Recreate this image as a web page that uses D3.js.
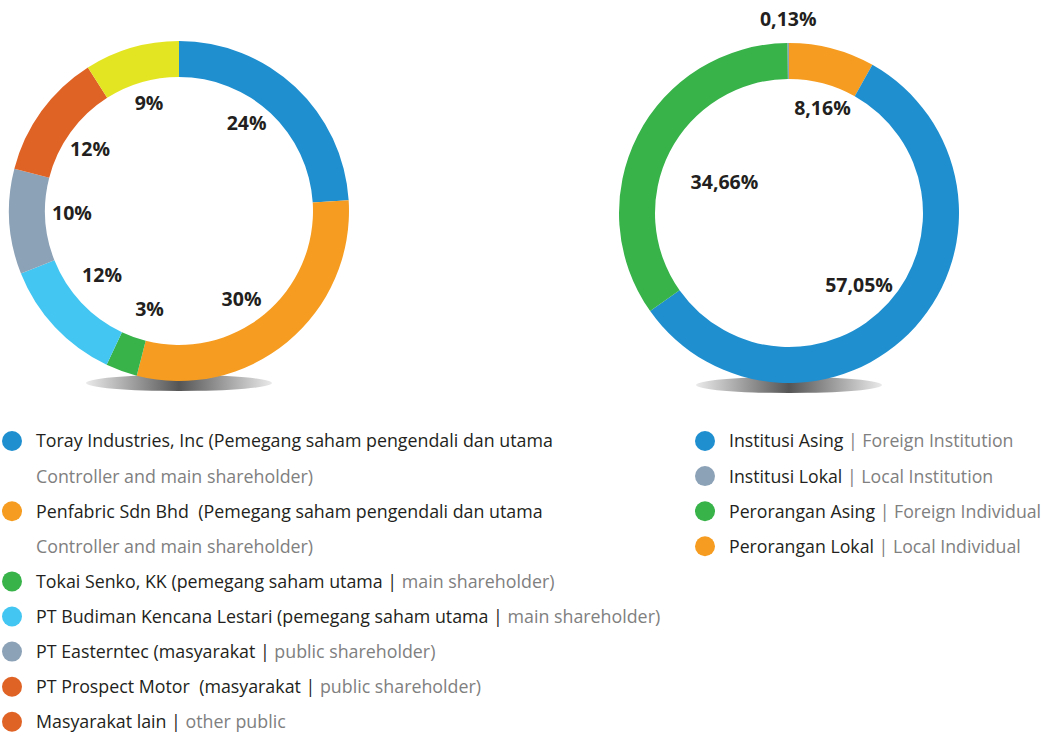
<!DOCTYPE html>
<html>
<head>
<meta charset="utf-8">
<script src="https://cdn.jsdelivr.net/npm/d3@7"></script>
<style>
body { margin: 0; background: #fff; }
svg { display: block; }
text { font-family: "Open Sans", sans-serif; white-space: pre; }
</style>
</head>
<body>
<div id="chart"></div>
<script>
// left donut: shareholders
var leftNames = ["Toray Industries", "Penfabric", "Tokai Senko", "PT Budiman Kencana Lestari", "PT Easterntec", "PT Prospect Motor", "Masyarakat lain"];
var leftValues = [24, 30, 3, 12, 10, 12, 9];
var leftLabels = ["24%", "30%", "3%", "12%", "10%", "12%", "9%"];
var leftColors = ["#1f8fd0", "#f69d21", "#37b34a", "#43c6f1", "#8ca2b7", "#e06326", "#e4e522"];

// right donut: investor type
var rightNames = ["Perorangan Lokal", "Institusi Asing", "Perorangan Asing", "Institusi Lokal"];
var rightValues = [8.16, 57.05, 34.66, 0.13];
var rightLabels = ["8,16%", "57,05%", "34,66%", "0,13%"];
var rightColors = ["#f69d21", "#1f8fd0", "#37b34a", "#8ca2b7"];

// legend texts [black part, grey part]
var leftLegendRows = [
    ["Toray Industries, Inc (Pemegang saham pengendali dan utama", ""],
    ["", "Controller and main shareholder)"],
    ["Penfabric Sdn Bhd  (Pemegang saham pengendali dan utama", ""],
    ["", "Controller and main shareholder)"],
    ["Tokai Senko, KK (pemegang saham utama | ", "main shareholder)"],
    ["PT Budiman Kencana Lestari (pemegang saham utama | ", "main shareholder)"],
    ["PT Easterntec (masyarakat | ", "public shareholder)"],
    ["PT Prospect Motor  (masyarakat | ", "public shareholder)"],
    ["Masyarakat lain | ", "other public"]
];
var leftLegendDots = ["#1f8fd0", null, "#f69d21", null, "#37b34a", "#43c6f1", "#8ca2b7", "#e06326", "#e06326"];

var rightLegendRows = [
    ["Institusi Asing ", "| Foreign Institution"],
    ["Institusi Lokal ", "| Local Institution"],
    ["Perorangan Asing ", "| Foreign Individual"],
    ["Perorangan Lokal ", "| Local Individual"]
];
var rightLegendDots = ["#1f8fd0", "#8ca2b7", "#37b34a", "#f69d21"];

var w = 1044;
var h = 732;
var outerR = 170;
var innerR = 134;

var svg = d3.select("#chart")
    .append("svg")
    .attr("width", w)
    .attr("height", h);

// gradient for the shadow under each ring
var defs = svg.append("defs");
var grad = defs.append("linearGradient")
    .attr("id", "shadow")
    .attr("x1", "0%").attr("x2", "100%")
    .attr("y1", "0%").attr("y2", "0%");
grad.append("stop").attr("offset", "0%").attr("stop-color", "#eaeaea");
grad.append("stop").attr("offset", "50%").attr("stop-color", "#555555");
grad.append("stop").attr("offset", "100%").attr("stop-color", "#eaeaea");

var pie = d3.pie().sort(null).value(function(d) { return d; });
var arc = d3.arc().innerRadius(innerR).outerRadius(outerR);

// labels sit near the slice middle; small per-label nudges (radius px, angle deg)
function drawDonut(cx, cy, values, colors, labels, labelR, labelTurn) {
    var g = svg.append("g").attr("transform", "translate(" + cx + "," + cy + ")");

    g.append("ellipse")
        .attr("cx", 0)
        .attr("cy", 172)
        .attr("rx", 93)
        .attr("ry", 8)
        .attr("fill", "url(#shadow)");

    var arcs = pie(values);

    g.selectAll("path")
        .data(arcs)
        .enter()
        .append("path")
        .attr("d", arc)
        .attr("fill", function(d, i) { return colors[i]; });

    g.selectAll(".slice-label")
        .data(arcs)
        .enter()
        .append("text")
        .attr("class", "slice-label")
        .text(function(d, i) { return labels[i]; })
        .attr("transform", function(d, i) {
            var r = labelR[i];
            var a = (d.startAngle + d.endAngle) / 2 + labelTurn[i] * Math.PI / 180;
            return "translate(" + (Math.sin(a) * r) + "," + (-Math.cos(a) * r) + ")";
        })
        .attr("text-anchor", "middle")
        .attr("dy", "0.36em")
        .attr("font-size", 19.5)
        .attr("font-weight", "bold")
        .attr("fill", "#231f20");
}

drawDonut(179, 211, leftValues, leftColors, leftLabels,
    [111, 108, 102, 100, 107, 108.5, 112], [-5.7, 4.2, -3, 3.5, 2.8, -1.1, 0.7]);
drawDonut(789, 213, rightValues, rightColors, rightLabels,
    [110, 100.4, 71.8, 194], [3, 3.7, -1.2, 0]);

function drawLegend(x, y0, step, rows, dots, fontSize, sx) {
    var g = svg.append("g");
    rows.forEach(function(row, i) {
        var y = y0 + i * step;
        if (dots[i]) {
            g.append("circle")
                .attr("cx", x)
                .attr("cy", y)
                .attr("r", 10)
                .attr("fill", dots[i]);
        }
        var t = g.append("text")
            .attr("transform", "translate(" + (x + 24) + "," + y + ") scale(" + sx + ",1)")
            .attr("dy", "0.36em")
            .attr("font-size", fontSize);
        t.append("tspan").attr("fill", "#231f20").text(row[0]);
        t.append("tspan").attr("fill", "#808080").text(row[1]);
    });
}

drawLegend(12, 441, 35.1, leftLegendRows, leftLegendDots, 18, 0.99);
drawLegend(705, 441, 35.1, rightLegendRows, rightLegendDots, 18, 0.985);
</script>
</body>
</html>
